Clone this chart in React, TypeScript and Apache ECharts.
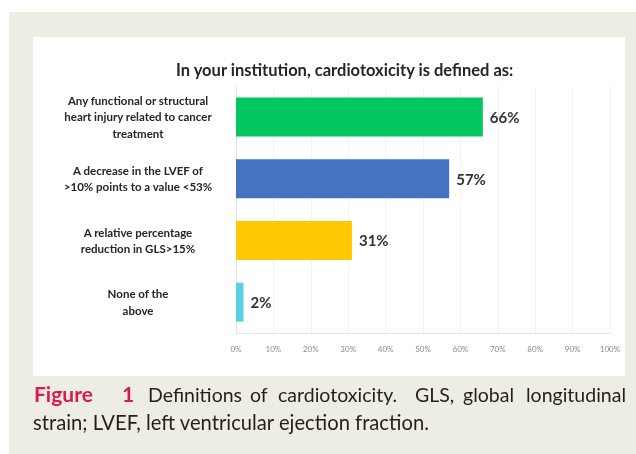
import React, { useEffect, useRef } from "react";
import * as echarts from "echarts";

const categories = [
  "Any functional or structural\nheart injury related to cancer\ntreatment",
  "A decrease in the LVEF of\n>10% points to a value <53%",
  "A relative percentage\nreduction in GLS>15%",
  "None of the\nabove",
];
const values = [66, 57, 31, 2];
const barColors = ["#05C75F", "#4573C4", "#FFC804", "#55D4DF"];
const chartTitle = "In your institution, cardiotoxicity is defined as:";
const captionLabelWords = ["Figure", "1"];
const captionLabelX = [34, 122];
const captionLine1Words = ["Definitions", "of", "cardiotoxicity.", "GLS,", "global", "longitudinal"];
const captionLine1X = [148, 250, 278, 415, 463, 526];
const captionLine2 = "strain; LVEF, left ventricular ejection fraction.";

export default function App() {
  const ref = useRef<HTMLDivElement>(null);
  useEffect(() => {
    if (!ref.current) return;
    const chart = echarts.init(ref.current, null, { renderer: "svg" });
    const font = "Lato, 'Open Sans', sans-serif";
    const graphics: any[] = [
      { type: "rect", z: -10, shape: { x: 9, y: 12, width: 627, height: 442 }, style: { fill: "#EEEDE3" }, silent: true },
      { type: "rect", z: -9, shape: { x: 33, y: 37, width: 592, height: 339 }, style: { fill: "#FFFFFF" }, silent: true },
      ...captionLabelWords.map((w, i) => ({
        type: "text", x: captionLabelX[i], y: 393,
        style: { text: w, fill: "#D81B50", font: `bold 21px ${font}`, verticalAlign: "middle" },
      })),
      ...captionLine1Words.map((w, i) => ({
        type: "text", x: captionLine1X[i], y: 394,
        style: { text: w, fill: "#231F20", font: `19.5px ${font}`, verticalAlign: "middle" },
      })),
      {
        type: "text", x: 33, y: 422,
        style: { text: captionLine2, fill: "#231F20", font: `20.2px ${font}`, verticalAlign: "middle" },
      },
    ];
    chart.setOption({
      animation: false,
      title: {
        text: chartTitle,
        left: 171,
        top: 56,
        textStyle: { fontFamily: font, fontSize: 16.5, fontWeight: "bold", color: "#262626" },
      },
      graphic: { elements: graphics },
      grid: { left: 236, right: 26, top: 86, bottom: 121, containLabel: false },
      xAxis: {
        type: "value",
        min: 0,
        max: 100,
        interval: 10,
        axisLine: { show: true, lineStyle: { color: "#E3E3E3" } },
        axisTick: { show: false },
        splitLine: { show: true, lineStyle: { color: "#F2F2F2" } },
        axisLabel: { formatter: "{value}%", color: "#8A8A8A", fontSize: 8, fontFamily: font, margin: 12 },
      },
      yAxis: {
        type: "category",
        inverse: true,
        data: categories,
        axisLine: { show: true, lineStyle: { color: "#E3E3E3" } },
        axisTick: { show: false },
        axisLabel: {
          align: "center",
          margin: 98,
          color: "#262626",
          fontSize: 11.5,
          fontWeight: "bold",
          fontFamily: font,
          lineHeight: 16.5,
        },
      },
      series: [
        {
          type: "bar",
          data: values.map((v, i) => ({ value: v, itemStyle: { color: barColors[i] } })),
          barWidth: 39,
          label: {
            show: true,
            position: "right",
            distance: 7,
            formatter: "{c}%",
            color: "#333333",
            fontSize: 15,
            fontWeight: "bold",
            fontFamily: font,
          },
        },
      ],
    });
    return () => chart.dispose();
  }, []);
  return <div ref={ref} style={{ position: "fixed", left: 0, top: 0, width: 636, height: 454 }} />;
}
